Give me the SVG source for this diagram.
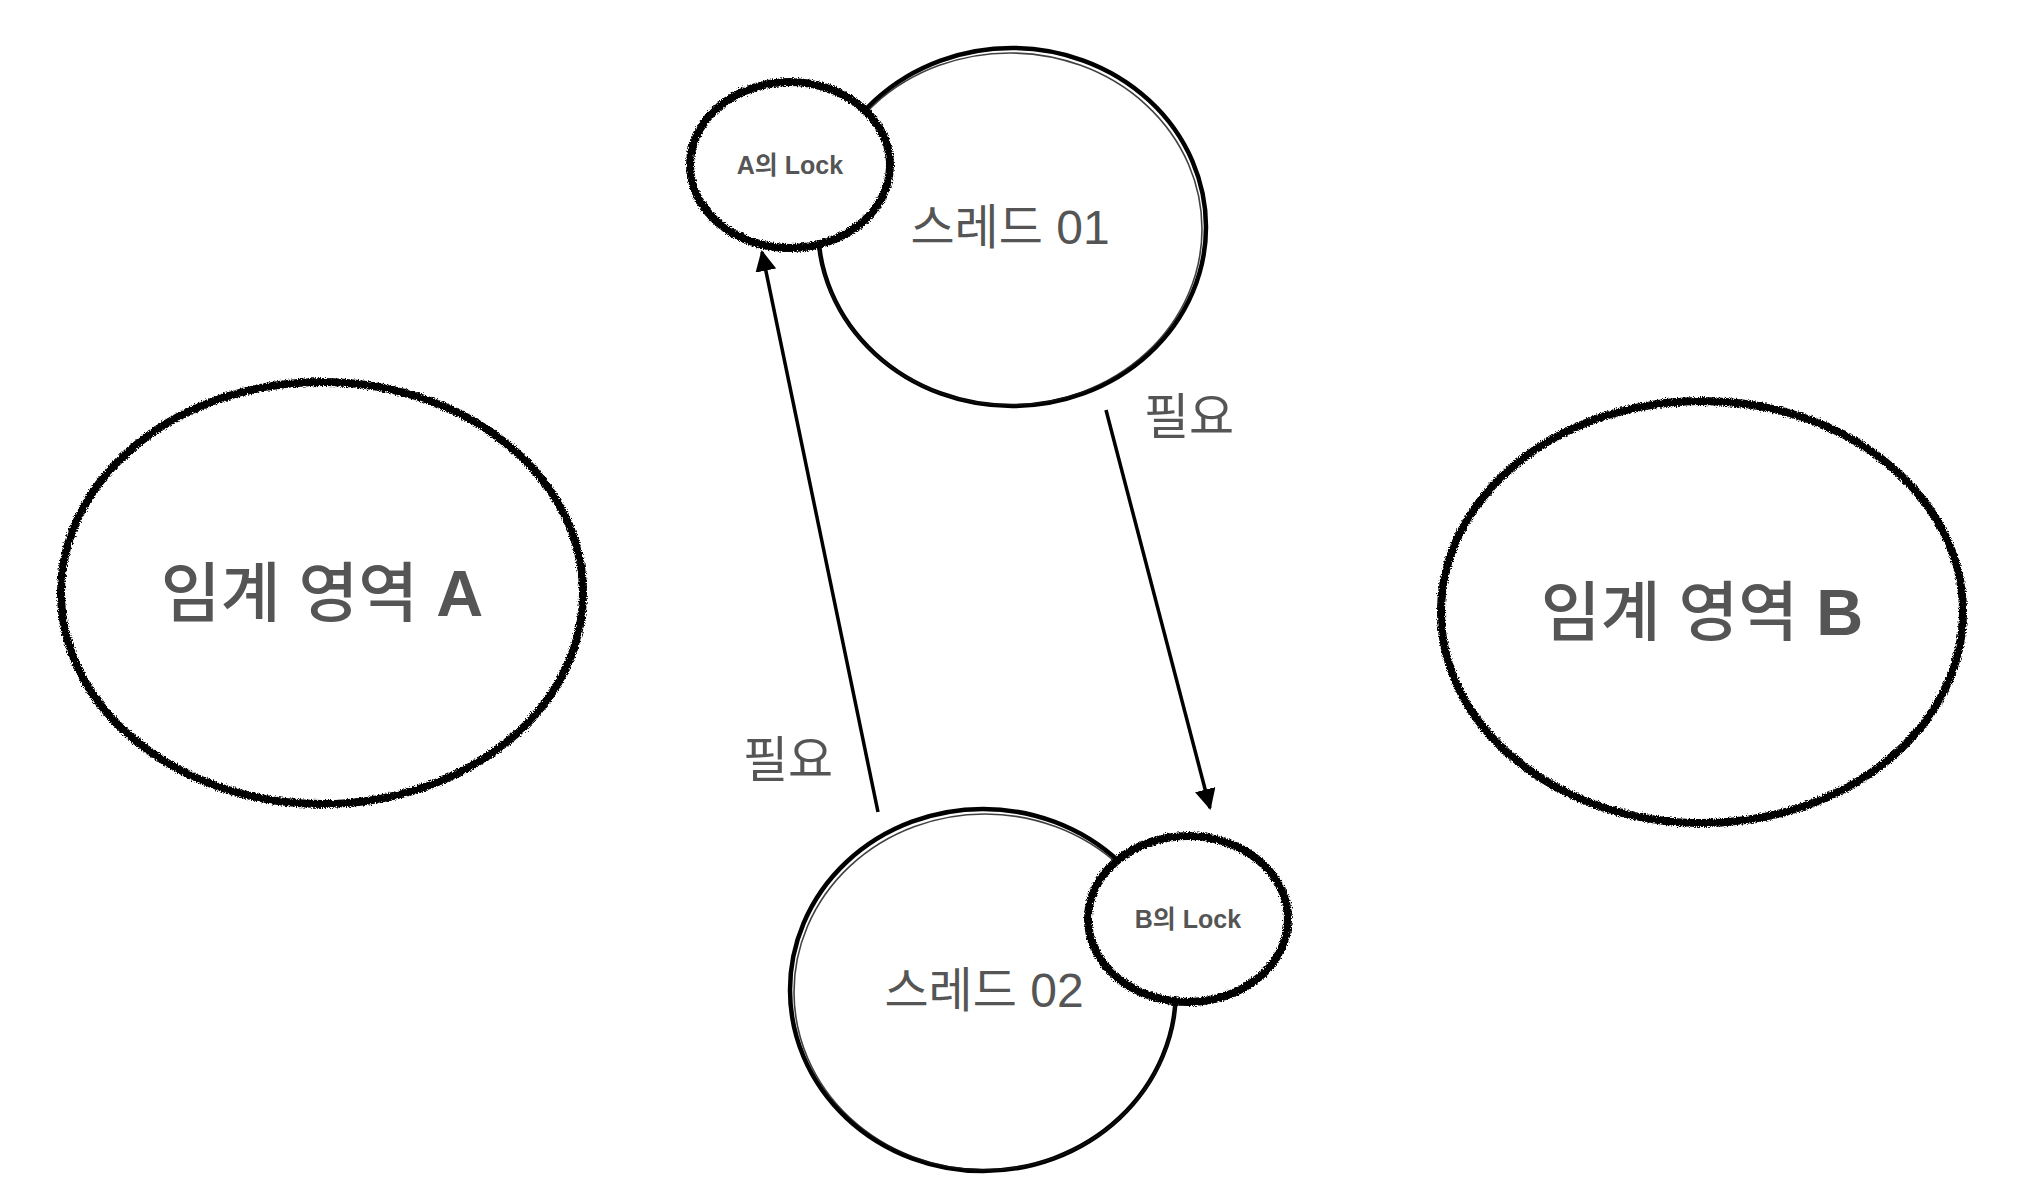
<svg xmlns="http://www.w3.org/2000/svg" width="2030" height="1204" viewBox="0 0 2030 1204">
<style>
.rough{fill:#fff;stroke:#000;stroke-width:8;filter:url(#chalk)}
.brush{fill:#fff;stroke:#000;stroke-width:4.5}
.brush2{fill:none;stroke:#111;stroke-width:1.6;opacity:0.8}
.t{font-family:"Liberation Sans","Noto Sans CJK KR",sans-serif;fill:#555;text-anchor:middle;dominant-baseline:central}
.lock{font-size:25px;font-weight:bold}
.thread{font-size:48px}
.region{font-size:65px;font-weight:500}
.b{font-weight:bold}
.need{font-size:49px}
.conn{stroke:#000;stroke-width:3.5;fill:none;marker-end:url(#arrow)}
</style>
<defs>
<filter id="chalk" x="-10%" y="-10%" width="120%" height="120%">
<feTurbulence type="fractalNoise" baseFrequency="0.8" numOctaves="2" seed="3" result="n"/>
<feDisplacementMap in="SourceGraphic" in2="n" scale="5" xChannelSelector="R" yChannelSelector="G"/>
</filter>
<marker id="arrow" viewBox="0 0 10 10" refX="9" refY="5" markerWidth="6" markerHeight="6" markerUnits="strokeWidth" orient="auto">
<path d="M0,0 L10,5 L0,10 z" fill="#000"/>
</marker>
</defs>
<rect width="2030" height="1204" fill="#fff"/>
<g id="region-a">
<ellipse class="rough" cx="322" cy="593" rx="261" ry="211"/>
<text class="t region" x="322" y="593">임계 영역 <tspan class="b">A</tspan></text>
</g>
<g id="region-b">
<ellipse class="rough" cx="1702" cy="612" rx="261" ry="211"/>
<text class="t region" x="1702" y="612">임계 영역 <tspan class="b">B</tspan></text>
</g>
<g id="thread-01">
<ellipse class="brush" cx="1012" cy="227" rx="194" ry="179"/>
<ellipse class="brush2" cx="1010" cy="229" rx="192" ry="176"/>
<text class="t thread" x="1010" y="227">스레드 01</text>
</g>
<g id="lock-a">
<ellipse class="rough" cx="790" cy="165" rx="100" ry="83"/>
<text class="t lock" x="790" y="165">A의 Lock</text>
</g>
<g id="thread-02">
<ellipse class="brush" cx="983" cy="990" rx="193" ry="181"/>
<ellipse class="brush2" cx="985" cy="992" rx="191" ry="178"/>
<text class="t thread" x="984" y="990">스레드 02</text>
</g>
<g id="lock-b">
<ellipse class="rough" cx="1188" cy="919" rx="100" ry="83"/>
<text class="t lock" x="1188" y="919">B의 Lock</text>
</g>
<g id="connectors">
<line class="conn" x1="878" y1="812" x2="762" y2="252"/>
<line class="conn" x1="1106" y1="410" x2="1210" y2="808"/>
</g>
<g id="labels">
<text class="t need" x="1189" y="417">필요</text>
<text class="t need" x="788" y="760">필요</text>
</g>
</svg>
